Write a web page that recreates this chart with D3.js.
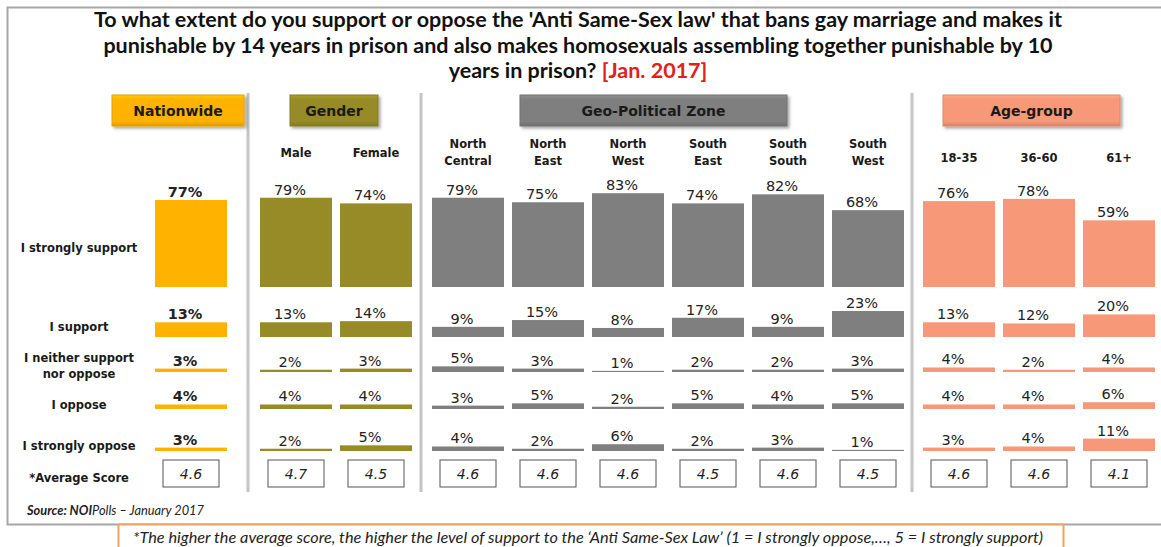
<!DOCTYPE html>
<html><head><meta charset="utf-8">
<script src="https://cdn.jsdelivr.net/npm/d3@7"></script>
<style>html,body{margin:0;padding:0;background:#fff;overflow:hidden}</style>
</head><body>
<svg id="chart" width="1161" height="547"></svg>
<script>
// ---------------- DATA ----------------
const categories = ["Nationwide","Male","Female","North Central","North East","North West","South East","South South","South West","18-35","36-60","61+"];
const categoryLabels = [[],["Male"],["Female"],["North","Central"],["North","East"],["North","West"],["South","East"],["South","South"],["South","West"],["18-35"],["36-60"],["61+"]];
const groupNames = ["Nationwide","Gender","Geo-Political Zone","Age-group"];
const groupMembers = [["Nationwide"],["Male","Female"],["North Central","North East","North West","South East","South South","South West"],["18-35","36-60","61+"]];
const responses = ["I strongly support","I support","I neither support nor oppose","I oppose","I strongly oppose"];
const strongSupport = [77,79,74,79,75,83,74,82,68,76,78,59];
const support       = [13,13,14,9,15,8,17,9,23,13,12,20];
const neither       = [3,2,3,5,3,1,2,2,3,4,2,4];
const oppose        = [4,4,4,3,5,2,5,4,5,4,4,6];
const strongOppose  = [3,2,5,4,2,6,2,3,1,3,4,11];
const avgScore      = [4.6,4.7,4.5,4.6,4.6,4.6,4.5,4.6,4.5,4.6,4.6,4.1];
const seriesValues = [strongSupport, support, neither, oppose, strongOppose];
const titleLines = ["To what extent do you support or oppose the 'Anti Same-Sex law' that bans gay marriage and makes it",
                    "punishable by 14 years in prison and also makes homosexuals assembling together punishable by 10",
                    "years in prison? "];
const titleDate = "[Jan. 2017]";
const sourceBold = "Source: NOI", sourceRest = "Polls \u2013 January 2017";
const footnote = "*The higher the average score, the higher the level of support to the \u2018Anti Same-Sex Law\u2019 (1 = I strongly oppose,\u2026, 5 =  I strongly support)";

// ---------------- LAYOUT / STYLE ----------------
const groupColors = ["#FFB300","#968B26","#7F7F7F","#F79878"];
const groupRanges = [[151,231],[256,416],[428,908],[919,1159]];
const groupHeaderBoxes = [[112,244],[290,378],[520,787],[943,1120]];
const separators = [248,421,912];
const rowBase = [287,337,372,409,451];
const rowLabelY = [[252],[331],[362,378],[409],[450]];
const rowLabelLines = [["I strongly support"],["I support"],["I neither support","nor oppose"],["I oppose"],["I strongly oppose"]];

const svg = d3.select("#chart");
const defs = svg.append("defs");
const f = defs.append("filter").attr("id","sh").attr("x","-10%").attr("y","-20%").attr("width","130%").attr("height","160%");
f.append("feDropShadow").attr("dx",2).attr("dy",2).attr("stdDeviation",1.5).attr("flood-color","#000").attr("flood-opacity",0.35);
groupColors.forEach((c,i)=>{
  const lg = defs.append("linearGradient").attr("id","hg"+i).attr("x1",0).attr("y1",0).attr("x2",0).attr("y2",1);
  lg.append("stop").attr("offset","0%").attr("stop-color",d3.color(c).brighter(0.35));
  lg.append("stop").attr("offset","15%").attr("stop-color",c);
  lg.append("stop").attr("offset","85%").attr("stop-color",c);
  lg.append("stop").attr("offset","100%").attr("stop-color",d3.color(c).darker(0.4));
});

// frame
svg.append("path").attr("d","M1161,7.5 H7.5 V524.5 H1161").attr("fill","none").attr("stroke","#A6A6A6").attr("stroke-width",2);

// title
const title = svg.append("text").attr("text-anchor","middle").attr("font-family","Lato").attr("font-weight","bold").attr("font-size",21.5).attr("fill","#111");
titleLines.forEach((t,i)=>{
  title.append("tspan").attr("x",578).attr("y",27+i*25.5).text(t);
  if(i===2) title.append("tspan").attr("fill","#E0201B").text(titleDate);
});

// scales
const h = d3.scaleLinear().domain([0,100]).range([0,113]);
const xScales = groupMembers.map((m,i)=>d3.scaleBand().domain(m).range(groupRanges[i]).paddingInner(0.1).paddingOuter(0.05));
const catGroup = categories.map(c=>groupMembers.findIndex(m=>m.includes(c)));
const xOf = c => xScales[catGroup[categories.indexOf(c)]](c);
const bw = xScales[0].bandwidth();

// separators
separators.forEach(x=>svg.append("line").attr("x1",x).attr("x2",x).attr("y1",93).attr("y2",492).attr("stroke","#C4C4C4").attr("stroke-width",3));

// group header boxes
groupNames.forEach((g,i)=>{
  const [x0,x1] = groupHeaderBoxes[i];
  svg.append("rect").attr("x",x0).attr("y",95).attr("width",x1-x0).attr("height",31).attr("fill","url(#hg"+i+")")
     .attr("stroke",d3.color(groupColors[i]).darker(0.3)).attr("stroke-width",1).attr("filter","url(#sh)");
  svg.append("text").attr("x",(x0+x1)/2).attr("y",116).attr("text-anchor","middle").attr("font-family","DejaVu Sans")
     .attr("font-weight","bold").attr("font-size",14).attr("fill","#1a1a1a").text(g);
});

// column labels
categories.forEach((c,i)=>{
  const cx = xOf(c)+bw/2;
  const lines = categoryLabels[i];
  const g = catGroup[i];
  let ys = lines.length===2 ? [148,165] : (g===3 ? [162] : [157]);
  lines.forEach((l,j)=>svg.append("text").attr("x",cx).attr("y",ys[j]).attr("text-anchor","middle")
     .attr("font-family","DejaVu Sans").attr("font-weight","bold").attr("font-size",11.5).attr("fill","#1a1a1a").text(l));
});

// row labels
rowLabelLines.forEach((lines,r)=>lines.forEach((l,j)=>svg.append("text").attr("x",79).attr("y",rowLabelY[r][j]).attr("text-anchor","middle")
   .attr("font-family","DejaVu Sans").attr("font-weight","bold").attr("font-size",11.5).attr("fill","#1a1a1a").text(l)));
svg.append("text").attr("x",79).attr("y",482).attr("text-anchor","middle").attr("font-family","DejaVu Sans").attr("font-weight","bold")
   .attr("font-size",11.5).attr("fill","#1a1a1a").text("*Average Score");

// bars + labels
seriesValues.forEach((vals,r)=>{
  const base = rowBase[r];
  const gsel = svg.append("g");
  gsel.selectAll("rect").data(categories).join("rect")
    .attr("x",c=>xOf(c)).attr("width",bw)
    .attr("y",(c,i)=>base-Math.max(1,h(vals[i]))).attr("height",(c,i)=>Math.max(1,h(vals[i])))
    .attr("fill",(c,i)=>groupColors[catGroup[i]]);
  gsel.selectAll("text").data(categories).join("text")
    .attr("x",c=>xOf(c)+bw/2-6).attr("y",(c,i)=>base-Math.max(1,h(vals[i]))-3)
    .attr("text-anchor","middle").attr("font-family","DejaVu Sans").attr("font-size",14.5)
    .attr("font-weight",(c,i)=>catGroup[i]===0?"bold":"normal").attr("fill","#222")
    .text((c,i)=>vals[i]+"%");
});

// average score boxes
const ag = svg.append("g");
ag.selectAll("rect").data(categories).join("rect")
  .attr("x",c=>xOf(c)+bw/2-28).attr("y",460).attr("width",56).attr("height",27)
  .attr("fill","#fff").attr("stroke","#555").attr("stroke-width",1);
ag.selectAll("text").data(categories).join("text")
  .attr("x",c=>xOf(c)+bw/2).attr("y",479).attr("text-anchor","middle").attr("font-family","DejaVu Sans")
  .attr("font-style","italic").attr("font-size",14).attr("fill","#222").text((c,i)=>avgScore[i].toFixed(1));

// source
const src = svg.append("text").attr("x",27).attr("y",515).attr("font-family","Lato").attr("font-style","italic").attr("font-size",12.8).attr("fill","#222");
src.append("tspan").attr("font-weight","bold").text(sourceBold);
src.append("tspan").text(sourceRest);

// footnote box
svg.append("rect").attr("x",118.5).attr("y",524.5).attr("width",945).attr("height",40).attr("fill","#fff").attr("stroke","#F2A25E").attr("stroke-width",2);
svg.append("text").attr("x",588).attr("y",543).attr("text-anchor","middle").attr("font-family","Lato").attr("font-style","italic")
   .attr("font-size",16.3).attr("fill","#222").text(footnote);
</script>
</body></html>
